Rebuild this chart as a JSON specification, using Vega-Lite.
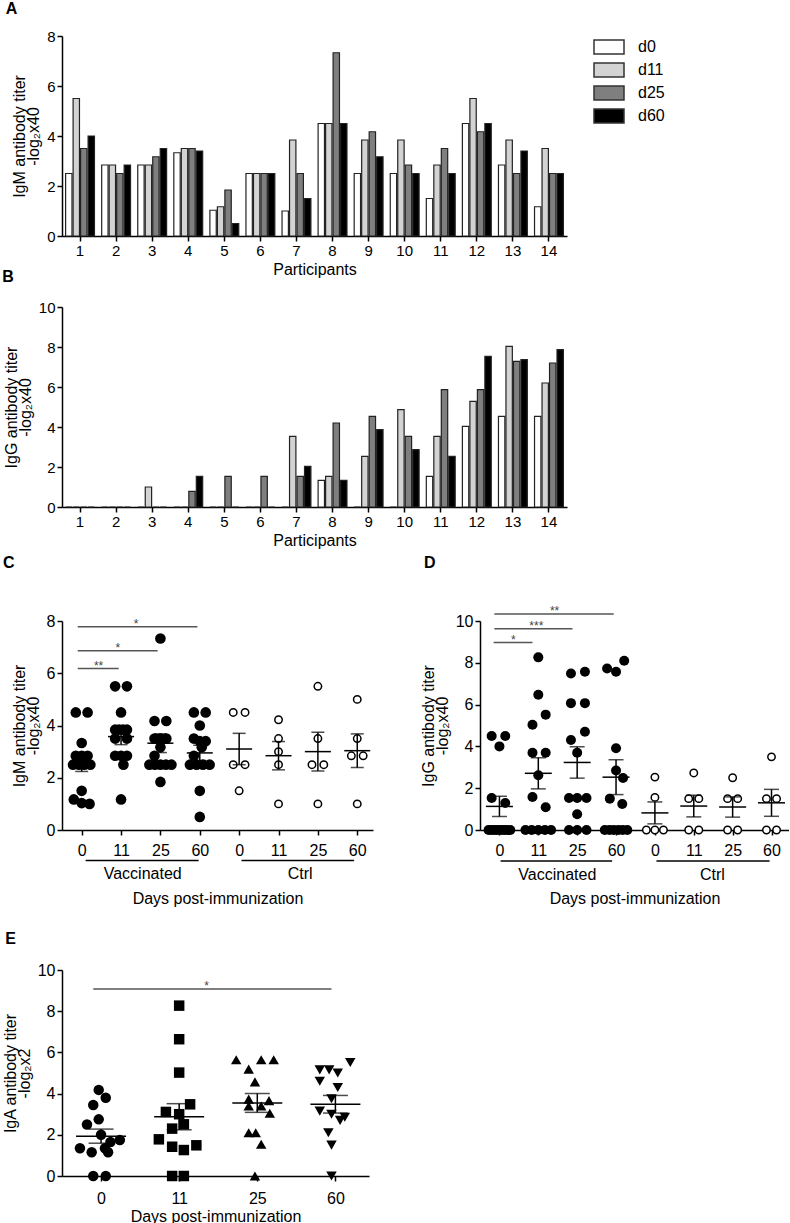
{
"$schema":"https://vega.github.io/schema/vega-lite/v6.json",
"padding":{"left":2,"top":1,"right":0,"bottom":0},
"spacing":-8,
"resolve":{"scale":{"fill":"independent","shape":"independent"}},
"config":{
 "font":"Liberation Sans",
 "view":{"stroke":null},
 "axis":{"domainColor":"#000","domainWidth":1.5,"tickColor":"#000","tickWidth":1.5,"tickSize":5,"labelFontSize":16,"labelColor":"#000","titleFontSize":16,"titleFontWeight":"normal","titleColor":"#000","grid":false,"labelPadding":2,"titleLineHeight":14,"labelFont":"Liberation Sans","titleFont":"Liberation Sans"},
 "axisY":{"titlePadding":5},
 "title":{"fontSize":16,"fontWeight":"bold","anchor":"start","color":"#000","frame":"bounds"},
 "legend":{"labelFont":"Liberation Sans"}
},
"datasets":{
 "igm":[
  {"p":1,"d":"d0","v":2.5},{"p":1,"d":"d11","v":5.5},{"p":1,"d":"d25","v":3.5},{"p":1,"d":"d60","v":4.0},
  {"p":2,"d":"d0","v":2.84},{"p":2,"d":"d11","v":2.84},{"p":2,"d":"d25","v":2.5},{"p":2,"d":"d60","v":2.84},
  {"p":3,"d":"d0","v":2.84},{"p":3,"d":"d11","v":2.84},{"p":3,"d":"d25","v":3.17},{"p":3,"d":"d60","v":3.5},
  {"p":4,"d":"d0","v":3.33},{"p":4,"d":"d11","v":3.5},{"p":4,"d":"d25","v":3.5},{"p":4,"d":"d60","v":3.4},
  {"p":5,"d":"d0","v":1.03},{"p":5,"d":"d11","v":1.17},{"p":5,"d":"d25","v":1.84},{"p":5,"d":"d60","v":0.5},
  {"p":6,"d":"d0","v":2.5},{"p":6,"d":"d11","v":2.5},{"p":6,"d":"d25","v":2.5},{"p":6,"d":"d60","v":2.5},
  {"p":7,"d":"d0","v":1.0},{"p":7,"d":"d11","v":3.84},{"p":7,"d":"d25","v":2.5},{"p":7,"d":"d60","v":1.5},
  {"p":8,"d":"d0","v":4.5},{"p":8,"d":"d11","v":4.5},{"p":8,"d":"d25","v":7.33},{"p":8,"d":"d60","v":4.5},
  {"p":9,"d":"d0","v":2.5},{"p":9,"d":"d11","v":3.84},{"p":9,"d":"d25","v":4.17},{"p":9,"d":"d60","v":3.17},
  {"p":10,"d":"d0","v":2.5},{"p":10,"d":"d11","v":3.84},{"p":10,"d":"d25","v":2.84},{"p":10,"d":"d60","v":2.5},
  {"p":11,"d":"d0","v":1.5},{"p":11,"d":"d11","v":2.84},{"p":11,"d":"d25","v":3.5},{"p":11,"d":"d60","v":2.5},
  {"p":12,"d":"d0","v":4.5},{"p":12,"d":"d11","v":5.5},{"p":12,"d":"d25","v":4.17},{"p":12,"d":"d60","v":4.5},
  {"p":13,"d":"d0","v":2.84},{"p":13,"d":"d11","v":3.84},{"p":13,"d":"d25","v":2.5},{"p":13,"d":"d60","v":3.4},
  {"p":14,"d":"d0","v":1.17},{"p":14,"d":"d11","v":3.5},{"p":14,"d":"d25","v":2.5},{"p":14,"d":"d60","v":2.5}
 ],
 "igg":[
  {"p":1,"d":"d0","v":0},{"p":1,"d":"d11","v":0},{"p":1,"d":"d25","v":0},{"p":1,"d":"d60","v":0},
  {"p":2,"d":"d0","v":0},{"p":2,"d":"d11","v":0},{"p":2,"d":"d25","v":0},{"p":2,"d":"d60","v":0},
  {"p":3,"d":"d0","v":0},{"p":3,"d":"d11","v":1.0},{"p":3,"d":"d25","v":0},{"p":3,"d":"d60","v":0},
  {"p":4,"d":"d0","v":0},{"p":4,"d":"d11","v":0},{"p":4,"d":"d25","v":0.78},{"p":4,"d":"d60","v":1.53},
  {"p":5,"d":"d0","v":0},{"p":5,"d":"d11","v":0},{"p":5,"d":"d25","v":1.53},{"p":5,"d":"d60","v":0},
  {"p":6,"d":"d0","v":0},{"p":6,"d":"d11","v":0},{"p":6,"d":"d25","v":1.53},{"p":6,"d":"d60","v":0},
  {"p":7,"d":"d0","v":0},{"p":7,"d":"d11","v":3.53},{"p":7,"d":"d25","v":1.53},{"p":7,"d":"d60","v":2.03},
  {"p":8,"d":"d0","v":1.33},{"p":8,"d":"d11","v":1.53},{"p":8,"d":"d25","v":4.2},{"p":8,"d":"d60","v":1.33},
  {"p":9,"d":"d0","v":0},{"p":9,"d":"d11","v":2.53},{"p":9,"d":"d25","v":4.53},{"p":9,"d":"d60","v":3.87},
  {"p":10,"d":"d0","v":0},{"p":10,"d":"d11","v":4.87},{"p":10,"d":"d25","v":3.53},{"p":10,"d":"d60","v":2.87},
  {"p":11,"d":"d0","v":1.53},{"p":11,"d":"d11","v":3.53},{"p":11,"d":"d25","v":5.87},{"p":11,"d":"d60","v":2.53},
  {"p":12,"d":"d0","v":4.03},{"p":12,"d":"d11","v":5.28},{"p":12,"d":"d25","v":5.87},{"p":12,"d":"d60","v":7.53},
  {"p":13,"d":"d0","v":4.53},{"p":13,"d":"d11","v":8.03},{"p":13,"d":"d25","v":7.28},{"p":13,"d":"d60","v":7.37},
  {"p":14,"d":"d0","v":4.53},{"p":14,"d":"d11","v":6.2},{"p":14,"d":"d25","v":7.2},{"p":14,"d":"d60","v":7.87}
 ],
 "cpts":[
  {"g":1,"x":0.85,"v":4.5},{"g":1,"x":1.15,"v":4.5},{"g":1,"x":1.0,"v":3.33},{"g":1,"x":0.85,"v":2.84},{"g":1,"x":1.15,"v":2.84},{"g":1,"x":1.0,"v":2.84},{"g":1,"x":0.78,"v":2.5},{"g":1,"x":0.93,"v":2.5},{"g":1,"x":1.07,"v":2.5},{"g":1,"x":1.22,"v":2.5},{"g":1,"x":1.0,"v":1.5},{"g":1,"x":0.8,"v":1.17},{"g":1,"x":1.0,"v":1.03},{"g":1,"x":1.2,"v":1.0},
  {"g":2,"x":1.85,"v":5.5},{"g":2,"x":2.15,"v":5.5},{"g":2,"x":2.0,"v":4.5},{"g":2,"x":1.85,"v":3.84},{"g":2,"x":2.15,"v":3.84},{"g":2,"x":1.95,"v":3.84},{"g":2,"x":2.05,"v":3.84},{"g":2,"x":1.85,"v":3.5},{"g":2,"x":2.15,"v":3.5},{"g":2,"x":1.85,"v":2.84},{"g":2,"x":2.15,"v":2.84},{"g":2,"x":2.0,"v":2.84},{"g":2,"x":2.06,"v":2.5},{"g":2,"x":2.0,"v":1.17},
  {"g":3,"x":3.0,"v":7.33},{"g":3,"x":2.85,"v":4.17},{"g":3,"x":3.15,"v":4.17},{"g":3,"x":2.85,"v":3.5},{"g":3,"x":3.15,"v":3.5},{"g":3,"x":3.0,"v":3.5},{"g":3,"x":3.0,"v":3.17},{"g":3,"x":2.85,"v":2.84},{"g":3,"x":2.72,"v":2.5},{"g":3,"x":2.86,"v":2.5},{"g":3,"x":3.0,"v":2.5},{"g":3,"x":3.14,"v":2.5},{"g":3,"x":3.28,"v":2.5},{"g":3,"x":3.0,"v":1.84},
  {"g":4,"x":3.85,"v":4.5},{"g":4,"x":4.15,"v":4.5},{"g":4,"x":4.0,"v":4.0},{"g":4,"x":3.85,"v":3.5},{"g":4,"x":4.15,"v":3.4},{"g":4,"x":4.0,"v":3.4},{"g":4,"x":4.05,"v":3.17},{"g":4,"x":3.85,"v":2.84},{"g":4,"x":3.75,"v":2.5},{"g":4,"x":3.92,"v":2.5},{"g":4,"x":4.08,"v":2.5},{"g":4,"x":4.25,"v":2.5},{"g":4,"x":4.0,"v":1.5},{"g":4,"x":4.0,"v":0.5},
  {"g":5,"x":4.85,"v":4.5},{"g":5,"x":5.15,"v":4.5},{"g":5,"x":4.85,"v":2.5},{"g":5,"x":5.15,"v":2.5},{"g":5,"x":5.0,"v":1.5},
  {"g":6,"x":6.0,"v":4.22},{"g":6,"x":6.0,"v":3.5},{"g":6,"x":6.0,"v":3.0},{"g":6,"x":6.0,"v":2.5},{"g":6,"x":6.0,"v":1.0},
  {"g":7,"x":7.0,"v":5.5},{"g":7,"x":7.0,"v":3.5},{"g":7,"x":6.85,"v":2.5},{"g":7,"x":7.15,"v":2.5},{"g":7,"x":7.0,"v":1.0},
  {"g":8,"x":8.0,"v":5.0},{"g":8,"x":8.0,"v":3.5},{"g":8,"x":7.85,"v":2.84},{"g":8,"x":8.15,"v":2.84},{"g":8,"x":8.0,"v":1.0}
 ],
 "dpts":[
  {"g":1,"x":0.8,"v":4.5},{"g":1,"x":1.15,"v":4.5},{"g":1,"x":1.0,"v":4.0},{"g":1,"x":0.8,"v":1.53},{"g":1,"x":1.15,"v":1.29},{"g":1,"x":0.72,"v":0},{"g":1,"x":0.79,"v":0},{"g":1,"x":0.86,"v":0},{"g":1,"x":0.93,"v":0},{"g":1,"x":1.0,"v":0},{"g":1,"x":1.07,"v":0},{"g":1,"x":1.14,"v":0},{"g":1,"x":1.21,"v":0},{"g":1,"x":1.28,"v":0},
  {"g":2,"x":2.0,"v":8.26},{"g":2,"x":2.0,"v":6.47},{"g":2,"x":2.19,"v":5.52},{"g":2,"x":1.85,"v":5.04},{"g":2,"x":1.85,"v":3.7},{"g":2,"x":2.19,"v":3.7},{"g":2,"x":2.0,"v":2.62},{"g":2,"x":1.85,"v":1.58},{"g":2,"x":2.19,"v":1.09},{"g":2,"x":1.67,"v":0},{"g":2,"x":1.83,"v":0},{"g":2,"x":2.0,"v":0},{"g":2,"x":2.17,"v":0},{"g":2,"x":2.33,"v":0},
  {"g":3,"x":2.84,"v":7.49},{"g":3,"x":3.2,"v":7.57},{"g":3,"x":2.84,"v":6.07},{"g":3,"x":3.2,"v":6.07},{"g":3,"x":3.2,"v":4.7},{"g":3,"x":2.84,"v":4.31},{"g":3,"x":3.0,"v":3.7},{"g":3,"x":2.79,"v":1.53},{"g":3,"x":3.0,"v":1.53},{"g":3,"x":3.24,"v":1.53},{"g":3,"x":3.0,"v":0.75},{"g":3,"x":2.79,"v":0},{"g":3,"x":3.0,"v":0},{"g":3,"x":3.24,"v":0},
  {"g":4,"x":3.77,"v":7.73},{"g":4,"x":4.0,"v":7.57},{"g":4,"x":4.21,"v":8.1},{"g":4,"x":4.0,"v":3.91},{"g":4,"x":4.0,"v":2.85},{"g":4,"x":4.18,"v":2.49},{"g":4,"x":3.84,"v":1.5},{"g":4,"x":4.16,"v":1.24},{"g":4,"x":3.71,"v":0},{"g":4,"x":3.83,"v":0},{"g":4,"x":3.94,"v":0},{"g":4,"x":4.06,"v":0},{"g":4,"x":4.17,"v":0},{"g":4,"x":4.29,"v":0},
  {"g":5,"x":5.0,"v":2.53},{"g":5,"x":5.0,"v":1.56},{"g":5,"x":4.78,"v":0},{"g":5,"x":5.0,"v":0},{"g":5,"x":5.22,"v":0},
  {"g":6,"x":6.0,"v":2.73},{"g":6,"x":5.87,"v":1.5},{"g":6,"x":6.13,"v":1.5},{"g":6,"x":5.87,"v":0},{"g":6,"x":6.13,"v":0},
  {"g":7,"x":7.0,"v":2.5},{"g":7,"x":6.87,"v":1.5},{"g":7,"x":7.13,"v":1.5},{"g":7,"x":6.87,"v":0},{"g":7,"x":7.13,"v":0},
  {"g":8,"x":8.0,"v":3.5},{"g":8,"x":7.87,"v":1.5},{"g":8,"x":8.13,"v":1.5},{"g":8,"x":7.87,"v":0},{"g":8,"x":8.13,"v":0}
 ],
 "epts":[
  {"g":1,"x":0.97,"v":4.18},{"g":1,"x":1.06,"v":3.8},{"g":1,"x":0.9,"v":3.45},{"g":1,"x":0.97,"v":2.75},{"g":1,"x":0.82,"v":2.5},{"g":1,"x":1.0,"v":2.0},{"g":1,"x":1.24,"v":1.75},{"g":1,"x":1.12,"v":1.65},{"g":1,"x":0.73,"v":1.35},{"g":1,"x":1.05,"v":1.35},{"g":1,"x":0.88,"v":1.15},{"g":1,"x":1.09,"v":1.15},{"g":1,"x":0.9,"v":0},{"g":1,"x":1.06,"v":0},
  {"g":2,"x":2.0,"v":8.27},{"g":2,"x":2.0,"v":6.64},{"g":2,"x":2.0,"v":5.02},{"g":2,"x":2.14,"v":3.48},{"g":2,"x":1.83,"v":3.11},{"g":2,"x":2.0,"v":3.0},{"g":2,"x":2.06,"v":2.51},{"g":2,"x":1.91,"v":2.3},{"g":2,"x":1.74,"v":1.78},{"g":2,"x":1.91,"v":1.42},{"g":2,"x":2.06,"v":1.26},{"g":2,"x":2.22,"v":1.49},{"g":2,"x":1.91,"v":0},{"g":2,"x":2.06,"v":0},
  {"g":3,"x":2.73,"v":5.64},{"g":3,"x":3.05,"v":5.64},{"g":3,"x":3.21,"v":5.64},{"g":3,"x":2.89,"v":5.19},{"g":3,"x":2.97,"v":4.57},{"g":3,"x":2.89,"v":3.73},{"g":3,"x":3.15,"v":3.66},{"g":3,"x":2.89,"v":3.4},{"g":3,"x":3.05,"v":3.4},{"g":3,"x":3.16,"v":3.05},{"g":3,"x":2.89,"v":2.1},{"g":3,"x":2.98,"v":2.1},{"g":3,"x":3.05,"v":1.54},{"g":3,"x":2.97,"v":0},
  {"g":4,"x":4.19,"v":5.51},{"g":4,"x":3.8,"v":5.15},{"g":4,"x":3.92,"v":5.15},{"g":4,"x":4.03,"v":5.0},{"g":4,"x":3.8,"v":4.6},{"g":4,"x":4.03,"v":4.3},{"g":4,"x":3.95,"v":3.75},{"g":4,"x":3.8,"v":3.15},{"g":4,"x":3.95,"v":3.0},{"g":4,"x":4.12,"v":2.85},{"g":4,"x":4.06,"v":2.7},{"g":4,"x":3.91,"v":2.1},{"g":4,"x":3.95,"v":1.5},{"g":4,"x":3.95,"v":0}
 ],
 "cs":[{"x1":0.9,"x2":1.94,"y":6.18,"xm":1.43,"t":"**"},{"x1":0.9,"x2":2.93,"y":6.86,"xm":1.92,"t":"*"},{"x1":0.9,"x2":3.94,"y":7.78,"xm":2.38,"t":"*"}],
 "cg":[{"x1":1.1,"x2":3.97,"xm":2.55,"ly":-1.17,"ty":-1.69,"t":"Vaccinated"},{"x1":5.06,"x2":7.92,"xm":6.55,"ly":-1.17,"ty":-1.69,"t":"Ctrl"}],
 "ds":[{"x1":0.85,"x2":1.85,"y":8.97,"xm":1.36,"t":"*"},{"x1":0.87,"x2":2.88,"y":9.63,"xm":1.95,"t":"***"},{"x1":0.87,"x2":3.94,"y":10.34,"xm":2.42,"t":"**"}],
 "dg":[{"x1":1.03,"x2":3.9,"xm":2.49,"ly":-1.48,"ty":-2.15,"t":"Vaccinated"},{"x1":5.04,"x2":7.95,"xm":6.48,"ly":-1.48,"ty":-2.15,"t":"Ctrl"}],
 "es":[{"x1":0.9,"x2":3.95,"y":9.08,"xm":2.35,"t":"*"}],
 "labC":[{"t":"C","x":-1.0,"y":10.53}],
 "labD":[{"t":"D","x":-0.94,"y":13.16}]
},
"vconcat":[
 {
  "title":{"text":"A","dx":-6,"offset":12},
  "width":505,"height":200,
  "data":{"name":"igm"},
  "mark":{"type":"bar","stroke":"#222","strokeWidth":1.2},
  "encoding":{
   "x":{"field":"p","type":"ordinal","scale":{"paddingInner":0.2,"paddingOuter":0.1},"axis":{"title":"Participants","labelAngle":0,"labelFontSize":15,"labelPadding":2,"titlePadding":3}},
   "xOffset":{"field":"d","type":"nominal","sort":["d0","d11","d25","d60"],"scale":{"paddingInner":0.15}},
   "y":{"field":"v","type":"quantitative","scale":{"domain":[0,8],"nice":false},"axis":{"values":[0,2,4,6,8],"title":["IgM antibody titer","-log₂x40"],"labelFontSize":15}},
   "fill":{"field":"d","type":"nominal","scale":{"domain":["d0","d11","d25","d60"],"range":["#ffffff","#d3d3d3","#7f7f7f","#000000"]},"legend":{"title":null,"orient":"right","offset":31,"symbolType":"M-1.5,-0.7H1.5V0.7H-1.5Z","symbolSize":400,"symbolStrokeColor":"#333","symbolStrokeWidth":1.5,"labelFontSize":16,"labelOffset":18,"rowPadding":2,"labelColor":"#000"}}
  }
 },
 {
  "title":{"text":"B","dx":-1,"offset":15},
  "width":505,"height":200,
  "data":{"name":"igg"},
  "mark":{"type":"bar","stroke":"#222","strokeWidth":1.2},
  "encoding":{
   "x":{"field":"p","type":"ordinal","scale":{"paddingInner":0.2,"paddingOuter":0.1},"axis":{"title":["Participants",""],"labelAngle":0,"labelFontSize":15,"labelPadding":2,"titlePadding":3}},
   "xOffset":{"field":"d","type":"nominal","sort":["d0","d11","d25","d60"],"scale":{"paddingInner":0.15}},
   "y":{"field":"v","type":"quantitative","scale":{"domain":[0,10],"nice":false},"axis":{"values":[0,2,4,6,8,10],"title":["IgG antibody titer","-log₂x40"],"labelFontSize":15}},
   "fill":{"field":"d","type":"nominal","scale":{"domain":["d0","d11","d25","d60"],"range":["#ffffff","#d3d3d3","#7f7f7f","#000000"]},"legend":null}
  }
 },
 {
  "spacing":47,
  "hconcat":[
   {
    "width":311,"height":209,
    "data":{"name":"cpts"},
    "layer":[
     {"transform":[{"filter":"datum.g<=4"}],"mark":{"type":"point","shape":"circle","filled":true,"color":"#000","size":113,"opacity":1},
      "encoding":{"x":{"field":"x","type":"quantitative","scale":{"domain":[0.5,8.4],"nice":false,"zero":false},"axis":{"values":[1,2,3,4,5,6,7,8],"labelExpr":"['0','11','25','60','0','11','25','60'][datum.value-1]","title":"Days post-immunization","labelPadding":7,"titlePadding":32}},
       "y":{"field":"v","type":"quantitative","scale":{"domain":[0,8],"nice":false},"axis":{"values":[0,2,4,6,8],"title":["IgM antibody titer","-log₂x40"]}}}},
     {"transform":[{"filter":"datum.g>4"}],"mark":{"type":"point","shape":"circle","filled":false,"fill":"#fff","stroke":"#000","strokeWidth":1.5,"size":55,"opacity":1},
      "encoding":{"x":{"field":"x","type":"quantitative","scale":{"domain":[0.5,8.4],"nice":false,"zero":false}},"y":{"field":"v","type":"quantitative","scale":{"domain":[0,8],"nice":false}}}},
     {"mark":{"type":"errorbar","extent":"stderr","orient":"vertical","color":"#000","thickness":1.5,"ticks":{"size":13}},
      "encoding":{"x":{"field":"g","type":"quantitative","scale":{"domain":[0.5,8.4],"nice":false,"zero":false},"title":"Days post-immunization"},"y":{"field":"v","type":"quantitative","scale":{"domain":[0,8],"nice":false},"title":["IgM antibody titer","-log₂x40"]}}},
     {"mark":{"type":"tick","orient":"horizontal","color":"#000","size":26,"thickness":1.5,"opacity":1},
      "encoding":{"x":{"field":"g","type":"quantitative","scale":{"domain":[0.5,8.4],"nice":false,"zero":false}},"y":{"aggregate":"mean","field":"v","type":"quantitative","scale":{"domain":[0,8],"nice":false}}}},
     {"data":{"name":"cs"},"mark":{"type":"rule","color":"#555","strokeWidth":1.5},
      "encoding":{"x":{"field":"x1","type":"quantitative","scale":{"domain":[0.5,8.4],"nice":false,"zero":false}},"x2":{"field":"x2"},"y":{"field":"y","type":"quantitative","scale":{"domain":[0,8],"nice":false}}}},
     {"data":{"name":"cs"},"mark":{"type":"text","color":"#444","fontSize":12,"baseline":"alphabetic","dy":1},
      "encoding":{"x":{"field":"xm","type":"quantitative","scale":{"domain":[0.5,8.4],"nice":false,"zero":false}},"y":{"field":"y","type":"quantitative","scale":{"domain":[0,8],"nice":false}},"text":{"field":"t"}}},
     {"data":{"name":"cg"},"mark":{"type":"rule","color":"#000","strokeWidth":1.5},
      "encoding":{"x":{"field":"x1","type":"quantitative","scale":{"domain":[0.5,8.4],"nice":false,"zero":false}},"x2":{"field":"x2"},"y":{"field":"ly","type":"quantitative","scale":{"domain":[0,8],"nice":false}}}},
     {"data":{"name":"cg"},"mark":{"type":"text","color":"#000","fontSize":16,"baseline":"middle"},
      "encoding":{"x":{"field":"xm","type":"quantitative","scale":{"domain":[0.5,8.4],"nice":false,"zero":false}},"y":{"field":"ty","type":"quantitative","scale":{"domain":[0,8],"nice":false}},"text":{"field":"t"}}},
     {"data":{"name":"labC"},"mark":{"type":"text","fontSize":16,"fontWeight":"bold","align":"left","baseline":"top","color":"#000"},
      "encoding":{"x":{"field":"x","type":"quantitative","scale":{"domain":[0.5,8.4],"nice":false,"zero":false}},"y":{"field":"y","type":"quantitative","scale":{"domain":[0,8],"nice":false}},"text":{"field":"t"}}}
    ]
   },
   {
    "width":309,"height":209,
    "data":{"name":"dpts"},
    "layer":[
     {"transform":[{"filter":"datum.g<=4"}],"mark":{"type":"point","shape":"circle","filled":true,"color":"#000","size":100,"opacity":1},
      "encoding":{"x":{"field":"x","type":"quantitative","scale":{"domain":[0.5,8.45],"nice":false,"zero":false},"axis":{"values":[1,2,3,4,5,6,7,8],"labelExpr":"['0','11','25','60','0','11','25','60'][datum.value-1]","title":"Days post-immunization","labelPadding":7,"titlePadding":32}},
       "y":{"field":"v","type":"quantitative","scale":{"domain":[0,10],"nice":false},"axis":{"values":[0,2,4,6,8,10],"title":["IgG antibody titer","-log₂x40"]}}}},
     {"transform":[{"filter":"datum.g>4"}],"mark":{"type":"point","shape":"circle","filled":false,"fill":"#fff","stroke":"#000","strokeWidth":1.5,"size":55,"opacity":1},
      "encoding":{"x":{"field":"x","type":"quantitative","scale":{"domain":[0.5,8.45],"nice":false,"zero":false}},"y":{"field":"v","type":"quantitative","scale":{"domain":[0,10],"nice":false}}}},
     {"mark":{"type":"errorbar","extent":"stderr","orient":"vertical","color":"#000","thickness":1.5,"ticks":{"size":15}},
      "encoding":{"x":{"field":"g","type":"quantitative","scale":{"domain":[0.5,8.45],"nice":false,"zero":false},"title":"Days post-immunization"},"y":{"field":"v","type":"quantitative","scale":{"domain":[0,10],"nice":false},"title":["IgG antibody titer","-log₂x40"]}}},
     {"mark":{"type":"tick","orient":"horizontal","color":"#000","size":27,"thickness":1.5,"opacity":1},
      "encoding":{"x":{"field":"g","type":"quantitative","scale":{"domain":[0.5,8.45],"nice":false,"zero":false}},"y":{"aggregate":"mean","field":"v","type":"quantitative","scale":{"domain":[0,10],"nice":false}}}},
     {"data":{"name":"ds"},"mark":{"type":"rule","color":"#555","strokeWidth":1.5},
      "encoding":{"x":{"field":"x1","type":"quantitative","scale":{"domain":[0.5,8.45],"nice":false,"zero":false}},"x2":{"field":"x2"},"y":{"field":"y","type":"quantitative","scale":{"domain":[0,10],"nice":false}}}},
     {"data":{"name":"ds"},"mark":{"type":"text","color":"#444","fontSize":12,"baseline":"alphabetic","dy":1},
      "encoding":{"x":{"field":"xm","type":"quantitative","scale":{"domain":[0.5,8.45],"nice":false,"zero":false}},"y":{"field":"y","type":"quantitative","scale":{"domain":[0,10],"nice":false}},"text":{"field":"t"}}},
     {"data":{"name":"dg"},"mark":{"type":"rule","color":"#000","strokeWidth":1.5},
      "encoding":{"x":{"field":"x1","type":"quantitative","scale":{"domain":[0.5,8.45],"nice":false,"zero":false}},"x2":{"field":"x2"},"y":{"field":"ly","type":"quantitative","scale":{"domain":[0,10],"nice":false}}}},
     {"data":{"name":"dg"},"mark":{"type":"text","color":"#000","fontSize":16,"baseline":"middle"},
      "encoding":{"x":{"field":"xm","type":"quantitative","scale":{"domain":[0.5,8.45],"nice":false,"zero":false}},"y":{"field":"ty","type":"quantitative","scale":{"domain":[0,10],"nice":false}},"text":{"field":"t"}}},
     {"data":{"name":"labD"},"mark":{"type":"text","fontSize":16,"fontWeight":"bold","align":"left","baseline":"top","color":"#000"},
      "encoding":{"x":{"field":"x","type":"quantitative","scale":{"domain":[0.5,8.45],"nice":false,"zero":false}},"y":{"field":"y","type":"quantitative","scale":{"domain":[0,10],"nice":false}},"text":{"field":"t"}}}
    ]
   }
  ]
 },
 {
  "title":{"text":["","E"],"lineHeight":33,"dx":3,"offset":15},
  "width":307,"height":206,
  "data":{"name":"epts"},
  "layer":[
   {"mark":{"type":"point","filled":true,"color":"#000","size":110,"opacity":1},
    "encoding":{"x":{"field":"x","type":"quantitative","scale":{"domain":[0.5,4.43],"nice":false,"zero":false},"axis":{"values":[1,2,3,4],"labelExpr":"['0','11','25','60'][datum.value-1]","title":"Days post-immunization","labelPadding":9,"titlePadding":2}},
     "y":{"field":"v","type":"quantitative","scale":{"domain":[0,10],"nice":false},"axis":{"values":[0,2,4,6,8,10],"title":["IgA antibody titer","-log₂x2"]}},
     "shape":{"field":"g","type":"nominal","scale":{"domain":[1,2,3,4],"range":["circle","square","triangle-up","triangle-down"]},"legend":null}}},
   {"mark":{"type":"errorbar","extent":"stderr","orient":"vertical","color":"#000","thickness":1.5,"ticks":{"size":25}},
    "encoding":{"x":{"field":"g","type":"quantitative","scale":{"domain":[0.5,4.43],"nice":false,"zero":false},"title":"Days post-immunization"},"y":{"field":"v","type":"quantitative","scale":{"domain":[0,10],"nice":false},"title":["IgA antibody titer","-log₂x2"]}}},
   {"mark":{"type":"tick","orient":"horizontal","color":"#000","size":50,"thickness":1.5,"opacity":1},
    "encoding":{"x":{"field":"g","type":"quantitative","scale":{"domain":[0.5,4.43],"nice":false,"zero":false}},"y":{"aggregate":"mean","field":"v","type":"quantitative","scale":{"domain":[0,10],"nice":false}}}},
   {"data":{"name":"es"},"mark":{"type":"rule","color":"#555","strokeWidth":1.5},
    "encoding":{"x":{"field":"x1","type":"quantitative","scale":{"domain":[0.5,4.43],"nice":false,"zero":false}},"x2":{"field":"x2"},"y":{"field":"y","type":"quantitative","scale":{"domain":[0,10],"nice":false}}}},
   {"data":{"name":"es"},"mark":{"type":"text","color":"#444","fontSize":12,"baseline":"alphabetic","dy":1},
    "encoding":{"x":{"field":"xm","type":"quantitative","scale":{"domain":[0.5,4.43],"nice":false,"zero":false}},"y":{"field":"y","type":"quantitative","scale":{"domain":[0,10],"nice":false}},"text":{"field":"t"}}}
  ]
 }
]
}
